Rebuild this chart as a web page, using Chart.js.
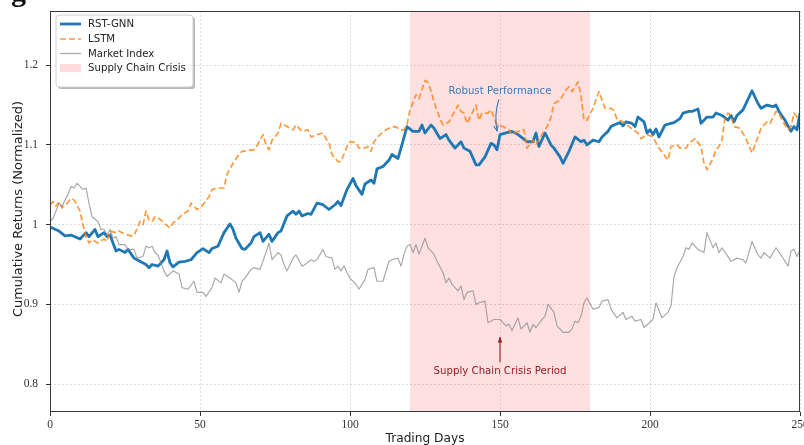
<!DOCTYPE html>
<html>
<head>
<meta charset="utf-8">
<script src="https://cdn.jsdelivr.net/npm/chart.js@4.4.1/dist/chart.umd.min.js"></script>
<style>
  html, body { margin: 0; padding: 0; background: #fff; }
</style>
</head>
<body>
<canvas id="chart" width="804" height="445"></canvas>
<script>
// values (trading day, normalized cumulative return)
const gnnDays = [0,3,5,7,10,12,13,15,16,18,19,20,22,23,25,26,28,29,32,33,34,36,38,39,40,41,43,45,47,49,51,53,54,56,58,60,61,62,64,65,67,68,70,71,73,74,76,77,79,81,82,83,84,86,87,89,91,93,95,96,97,99,101,102,104,105,107,108,109,111,113,114,116,117,119,121,123,124,125,127,128,130,132,133,135,137,138,140,142,143,145,147,148,149,150,152,154,156,157,159,161,162,163,165,167,168,170,171,173,175,177,178,179,181,183,184,186,187,188,190,191,192,194,195,196,198,199,200,201,202,203,205,207,208,210,211,213,214,216,217,219,221,222,224,226,227,228,229,231,232,234,236,237,239,241,242,243,245,247,248,249,250];
const gnnReturns = [0.997,0.992,0.986,0.987,0.982,0.99,0.985,0.994,0.985,0.99,0.985,0.987,0.967,0.969,0.965,0.969,0.958,0.956,0.95,0.946,0.95,0.948,0.956,0.967,0.952,0.947,0.953,0.954,0.956,0.965,0.97,0.965,0.97,0.973,0.99,1.001,0.994,0.983,0.97,0.969,0.977,0.985,0.99,0.979,0.988,0.979,0.99,0.992,1.011,1.017,1.013,1.017,1.011,1.014,1.013,1.027,1.025,1.019,1.025,1.029,1.024,1.044,1.058,1.049,1.038,1.051,1.056,1.052,1.07,1.073,1.081,1.088,1.083,1.096,1.123,1.117,1.117,1.125,1.115,1.125,1.121,1.108,1.113,1.106,1.096,1.104,1.096,1.092,1.075,1.075,1.085,1.102,1.1,1.094,1.113,1.115,1.117,1.113,1.11,1.104,1.104,1.115,1.098,1.115,1.1,1.096,1.085,1.077,1.092,1.11,1.104,1.106,1.1,1.106,1.104,1.11,1.117,1.123,1.125,1.128,1.124,1.129,1.127,1.123,1.135,1.129,1.115,1.119,1.113,1.12,1.11,1.125,1.127,1.128,1.133,1.14,1.142,1.142,1.145,1.127,1.135,1.135,1.14,1.137,1.131,1.137,1.129,1.137,1.144,1.152,1.168,1.152,1.146,1.15,1.148,1.15,1.142,1.131,1.117,1.123,1.119,1.14];

const lstmDays = [0,1,2,3,4,6,7,8,9,10,11,12,13,14,16,18,19,20,22,23,25,27,28,30,31,32,33,34,35,37,38,40,41,43,44,46,47,49,51,53,54,56,58,59,61,63,64,66,68,69,71,72,73,74,76,77,79,81,82,84,86,87,89,91,92,93,94,96,97,99,100,102,103,105,106,107,108,110,112,113,115,117,118,119,120,122,123,125,126,127,128,130,131,133,136,137,138,139,142,143,144,146,147,149,151,153,154,156,158,159,161,162,164,166,167,168,170,172,173,174,176,177,178,179,181,183,185,187,188,189,191,193,196,197,199,201,203,206,207,209,210,212,213,215,217,218,219,221,222,223,224,225,226,227,228,230,232,234,236,237,239,240,242,243,244,246,247,248,249,250];
const lstmReturns = [1.025,1.029,1.023,1.028,1.021,1.028,1.033,1.031,1.025,1.017,1.0,0.985,0.977,0.981,0.977,0.982,0.979,0.992,0.99,0.992,0.988,0.986,0.986,1.004,1.0,1.017,1.006,1.004,1.01,1.006,1.002,0.996,1.002,1.008,1.013,1.017,1.027,1.019,1.025,1.035,1.044,1.046,1.046,1.063,1.077,1.088,1.092,1.093,1.094,1.099,1.113,1.1,1.094,1.106,1.115,1.127,1.123,1.119,1.125,1.117,1.119,1.11,1.113,1.115,1.108,1.102,1.088,1.079,1.079,1.098,1.104,1.103,1.096,1.096,1.098,1.092,1.104,1.113,1.119,1.121,1.123,1.119,1.119,1.125,1.144,1.163,1.158,1.181,1.178,1.168,1.154,1.133,1.125,1.129,1.15,1.142,1.14,1.127,1.15,1.131,1.14,1.14,1.144,1.125,1.123,1.119,1.113,1.117,1.119,1.096,1.106,1.1,1.113,1.125,1.135,1.152,1.156,1.169,1.173,1.167,1.179,1.162,1.131,1.131,1.146,1.167,1.146,1.146,1.143,1.132,1.129,1.123,1.115,1.108,1.113,1.11,1.096,1.081,1.098,1.1,1.096,1.096,1.102,1.108,1.098,1.077,1.069,1.083,1.094,1.098,1.106,1.135,1.14,1.137,1.123,1.121,1.108,1.09,1.11,1.121,1.129,1.127,1.142,1.14,1.131,1.119,1.123,1.14,1.135,1.133];

const marketDays = [0,1,2,3,4,6,7,8,9,10,11,12,13,14,16,17,18,19,20,21,22,23,25,26,28,29,31,32,33,34,35,36,38,39,41,43,44,46,48,49,51,52,54,55,57,58,60,62,63,64,65,67,68,70,72,73,74,76,77,78,79,81,82,84,85,87,88,89,91,92,94,95,96,97,98,99,100,102,103,105,106,108,109,111,113,114,116,117,118,119,120,121,122,123,125,126,128,129,131,132,133,134,136,137,138,139,141,142,143,145,146,148,150,152,153,154,156,157,159,160,161,162,164,165,166,168,169,171,173,174,175,176,177,178,179,181,183,184,186,187,189,191,192,194,195,197,198,201,202,204,206,207,208,209,211,212,213,214,216,218,219,221,222,223,224,226,227,229,231,232,234,236,237,238,240,242,244,246,247,248,249,250];
const marketReturns = [1.004,1.008,1.017,1.027,1.023,1.038,1.048,1.046,1.052,1.048,1.044,1.046,1.027,1.01,1.004,0.994,0.994,0.987,0.994,0.983,0.985,0.975,0.975,0.969,0.969,0.958,0.96,0.973,0.971,0.973,0.965,0.962,0.942,0.935,0.942,0.938,0.921,0.919,0.929,0.915,0.915,0.91,0.921,0.933,0.927,0.938,0.933,0.927,0.915,0.929,0.933,0.944,0.946,0.944,0.965,0.977,0.956,0.965,0.962,0.95,0.942,0.958,0.962,0.948,0.95,0.956,0.954,0.956,0.969,0.96,0.958,0.944,0.948,0.942,0.948,0.94,0.933,0.925,0.919,0.931,0.944,0.946,0.929,0.929,0.954,0.956,0.958,0.948,0.963,0.973,0.975,0.965,0.975,0.963,0.983,0.971,0.963,0.954,0.94,0.927,0.933,0.925,0.917,0.923,0.906,0.915,0.917,0.9,0.902,0.904,0.877,0.881,0.881,0.873,0.875,0.867,0.883,0.869,0.877,0.865,0.875,0.871,0.881,0.885,0.9,0.89,0.873,0.865,0.865,0.869,0.879,0.877,0.885,0.902,0.908,0.894,0.896,0.904,0.906,0.894,0.883,0.89,0.881,0.885,0.879,0.881,0.871,0.881,0.902,0.883,0.89,0.898,0.935,0.946,0.96,0.971,0.969,0.977,0.969,0.965,0.99,0.971,0.977,0.965,0.971,0.96,0.954,0.958,0.956,0.952,0.979,0.962,0.958,0.965,0.958,0.971,0.96,0.948,0.967,0.969,0.96,0.969];

const seriesNames = ['RST-GNN', 'LSTM', 'Market Index'];
const crisisLabel = 'Supply Chain Crisis';
const crisisDays = [120, 180];
const xTicks = [0, 50, 100, 150, 200, 250];
const yTicks = [0.8, 0.9, 1.0, 1.1, 1.2];

const pts = (xs, ys) => xs.map((x, i) => ({ x: x, y: ys[i] }));

const SANS = '"DejaVu Sans", sans-serif';

function roundRect(ctx, x, y, w, h, r) {
  ctx.beginPath();
  ctx.moveTo(x + r, y);
  ctx.lineTo(x + w - r, y);
  ctx.quadraticCurveTo(x + w, y, x + w, y + r);
  ctx.lineTo(x + w, y + h - r);
  ctx.quadraticCurveTo(x + w, y + h, x + w - r, y + h);
  ctx.lineTo(x + r, y + h);
  ctx.quadraticCurveTo(x, y + h, x, y + h - r);
  ctx.lineTo(x, y + r);
  ctx.quadraticCurveTo(x, y, x + r, y);
  ctx.closePath();
}

function drawArrow(ctx, x1, y1, x2, y2, bend, color, filled) {
  const cx = (x1 + x2) / 2 + bend, cy = (y1 + y2) / 2;
  ctx.save();
  ctx.strokeStyle = color;
  ctx.fillStyle = color;
  ctx.lineWidth = 1.1;
  ctx.beginPath();
  ctx.moveTo(x1, y1);
  ctx.quadraticCurveTo(cx, cy, x2, y2);
  ctx.stroke();
  const a = Math.atan2(y2 - cy, x2 - cx);
  const len = 6, spread = 0.4;
  ctx.beginPath();
  ctx.moveTo(x2 - len * Math.cos(a - spread), y2 - len * Math.sin(a - spread));
  ctx.lineTo(x2, y2);
  ctx.lineTo(x2 - len * Math.cos(a + spread), y2 - len * Math.sin(a + spread));
  if (filled) { ctx.closePath(); ctx.fill(); } else { ctx.stroke(); }
  ctx.restore();
}

const decor = {
  id: 'decor',
  beforeDatasetsDraw(chart) {
    const { ctx, chartArea: ca, scales: { x } } = chart;
    const x1 = x.getPixelForValue(crisisDays[0]);
    const x2 = x.getPixelForValue(crisisDays[1]);
    ctx.save();
    ctx.fillStyle = 'rgba(255, 0, 0, 0.12)';
    ctx.fillRect(x1, ca.top, x2 - x1, ca.bottom - ca.top);
    ctx.restore();
  },
  afterDatasetsDraw(chart) {
    const { ctx, chartArea: ca, scales: { x, y } } = chart;
    ctx.save();

    // frame
    ctx.strokeStyle = '#3a3a3a';
    ctx.lineWidth = 1;
    ctx.strokeRect(ca.left + 0.5, ca.top + 0.5, ca.right - ca.left - 1, ca.bottom - ca.top - 1);

    // annotations
    ctx.font = '10.2px ' + SANS;
    ctx.textAlign = 'center';
    ctx.textBaseline = 'middle';
    ctx.fillStyle = '#3d7ab3';
    ctx.fillText('Robust Performance', x.getPixelForValue(150), y.getPixelForValue(1.167));
    drawArrow(ctx, x.getPixelForValue(149.6), y.getPixelForValue(1.157),
      x.getPixelForValue(149), y.getPixelForValue(1.1175), -4, '#3d7ab3', false);

    ctx.fillStyle = '#9b1c20';
    ctx.fillText('Supply Chain Crisis Period', x.getPixelForValue(150), y.getPixelForValue(0.816));
    drawArrow(ctx, x.getPixelForValue(150), y.getPixelForValue(0.8275),
      x.getPixelForValue(150), y.getPixelForValue(0.859), 0, '#9b1c20', true);

    // legend
    const lx = 56, ly = 15, lw = 137, lh = 72;
    ctx.fillStyle = 'rgba(0,0,0,0.28)';
    roundRect(ctx, lx + 2, ly + 2, lw, lh, 3);
    ctx.fill();
    ctx.fillStyle = '#fff';
    roundRect(ctx, lx, ly, lw, lh, 3);
    ctx.fill();
    ctx.strokeStyle = '#d0d0d0';
    ctx.lineWidth = 1;
    ctx.stroke();

    const rows = [24, 39, 53.5, 68];
    const sets = chart.data.datasets;
    ctx.textAlign = 'left';
    ctx.font = '10.2px ' + SANS;
    sets.forEach((ds, i) => {
      ctx.save();
      ctx.strokeStyle = ds.borderColor;
      ctx.lineWidth = ds.borderWidth;
      ctx.setLineDash(ds.borderDash || []);
      ctx.beginPath();
      ctx.moveTo(60, rows[i]);
      ctx.lineTo(81, rows[i]);
      ctx.stroke();
      ctx.restore();
      ctx.fillStyle = '#222';
      ctx.fillText(ds.label, 88, rows[i] + 0.5);
    });
    ctx.fillStyle = 'rgba(255, 0, 0, 0.14)';
    ctx.fillRect(60, rows[3] - 4, 21, 8);
    ctx.fillStyle = '#222';
    ctx.fillText(crisisLabel, 88, rows[3] + 0.5);

    ctx.restore();
  },
  afterDraw(chart) {
    const { ctx, chartArea: ca } = chart;
    ctx.save();
    ctx.fillStyle = '#222';
    ctx.textAlign = 'center';
    ctx.textBaseline = 'middle';
    ctx.font = '12.2px ' + SANS;
    ctx.fillText('Trading Days', (ca.left + ca.right) / 2, 439);
    ctx.font = '13px ' + SANS;
    ctx.translate(19, 209);
    ctx.rotate(-Math.PI / 2);
    ctx.fillText('Cumulative Returns (Normalized)', 0, 0);
    ctx.restore();

    // bottom of a cropped caption glyph at the top-left corner
    ctx.save();
    ctx.fillStyle = '#111';
    ctx.font = 'bold 30px "Liberation Serif", serif';
    ctx.textBaseline = 'alphabetic';
    ctx.fillText('g', 11, 1);
    ctx.restore();
  }
};

const tickFont = { family: '"Liberation Serif", "DejaVu Serif", serif', size: 11.5 };

new Chart(document.getElementById('chart'), {
  type: 'line',
  data: {
    datasets: [
      {
        label: seriesNames[0],
        data: pts(gnnDays, gnnReturns),
        borderColor: '#1f77b4',
        borderWidth: 2.8,
        order: 3
      },
      {
        label: seriesNames[1],
        data: pts(lstmDays, lstmReturns),
        borderColor: 'rgba(255, 127, 14, 0.8)',
        borderWidth: 1.7,
        borderDash: [6, 3],
        order: 2
      },
      {
        label: seriesNames[2],
        data: pts(marketDays, marketReturns),
        borderColor: 'rgba(140, 140, 140, 0.75)',
        borderWidth: 1.2,
        order: 1
      }
    ]
  },
  options: {
    responsive: false,
    animation: false,
    devicePixelRatio: 1,
    layout: { padding: { top: 11, right: 4, left: 0, bottom: 0 }, autoPadding: false },
    elements: { point: { radius: 0 }, line: { tension: 0, borderJoinStyle: 'round' } },
    plugins: { legend: { display: false }, tooltip: { enabled: false } },
    scales: {
      x: {
        type: 'linear',
        min: 0,
        max: 250,
        afterFit: (s) => { s.height = 33; s.paddingLeft = 0; s.paddingRight = 0; },
        afterBuildTicks: (s) => { s.ticks = xTicks.map(v => ({ value: v })); },
        ticks: { font: tickFont, color: '#333', padding: 2, maxRotation: 0, autoSkip: false },
        grid: { color: 'rgba(0,0,0,0.13)', tickLength: 4, tickColor: '#333', tickBorderDash: [], tickWidth: 1 },
        border: { display: false, dash: [2, 2] }
      },
      y: {
        type: 'linear',
        min: 0.765,
        max: 1.268,
        afterFit: (s) => { s.width = 50; s.paddingTop = 0; s.paddingBottom = 0; },
        afterBuildTicks: (s) => { s.ticks = yTicks.map(v => ({ value: v })); },
        ticks: {
          font: tickFont,
          color: '#333',
          padding: 8,
          callback: (v) => String(+v.toFixed(2))
        },
        grid: { color: 'rgba(0,0,0,0.13)', tickLength: 4, tickColor: '#333', tickBorderDash: [], tickWidth: 1 },
        border: { display: false, dash: [2, 2] }
      }
    }
  },
  plugins: [decor]
});
</script>
</body>
</html>
